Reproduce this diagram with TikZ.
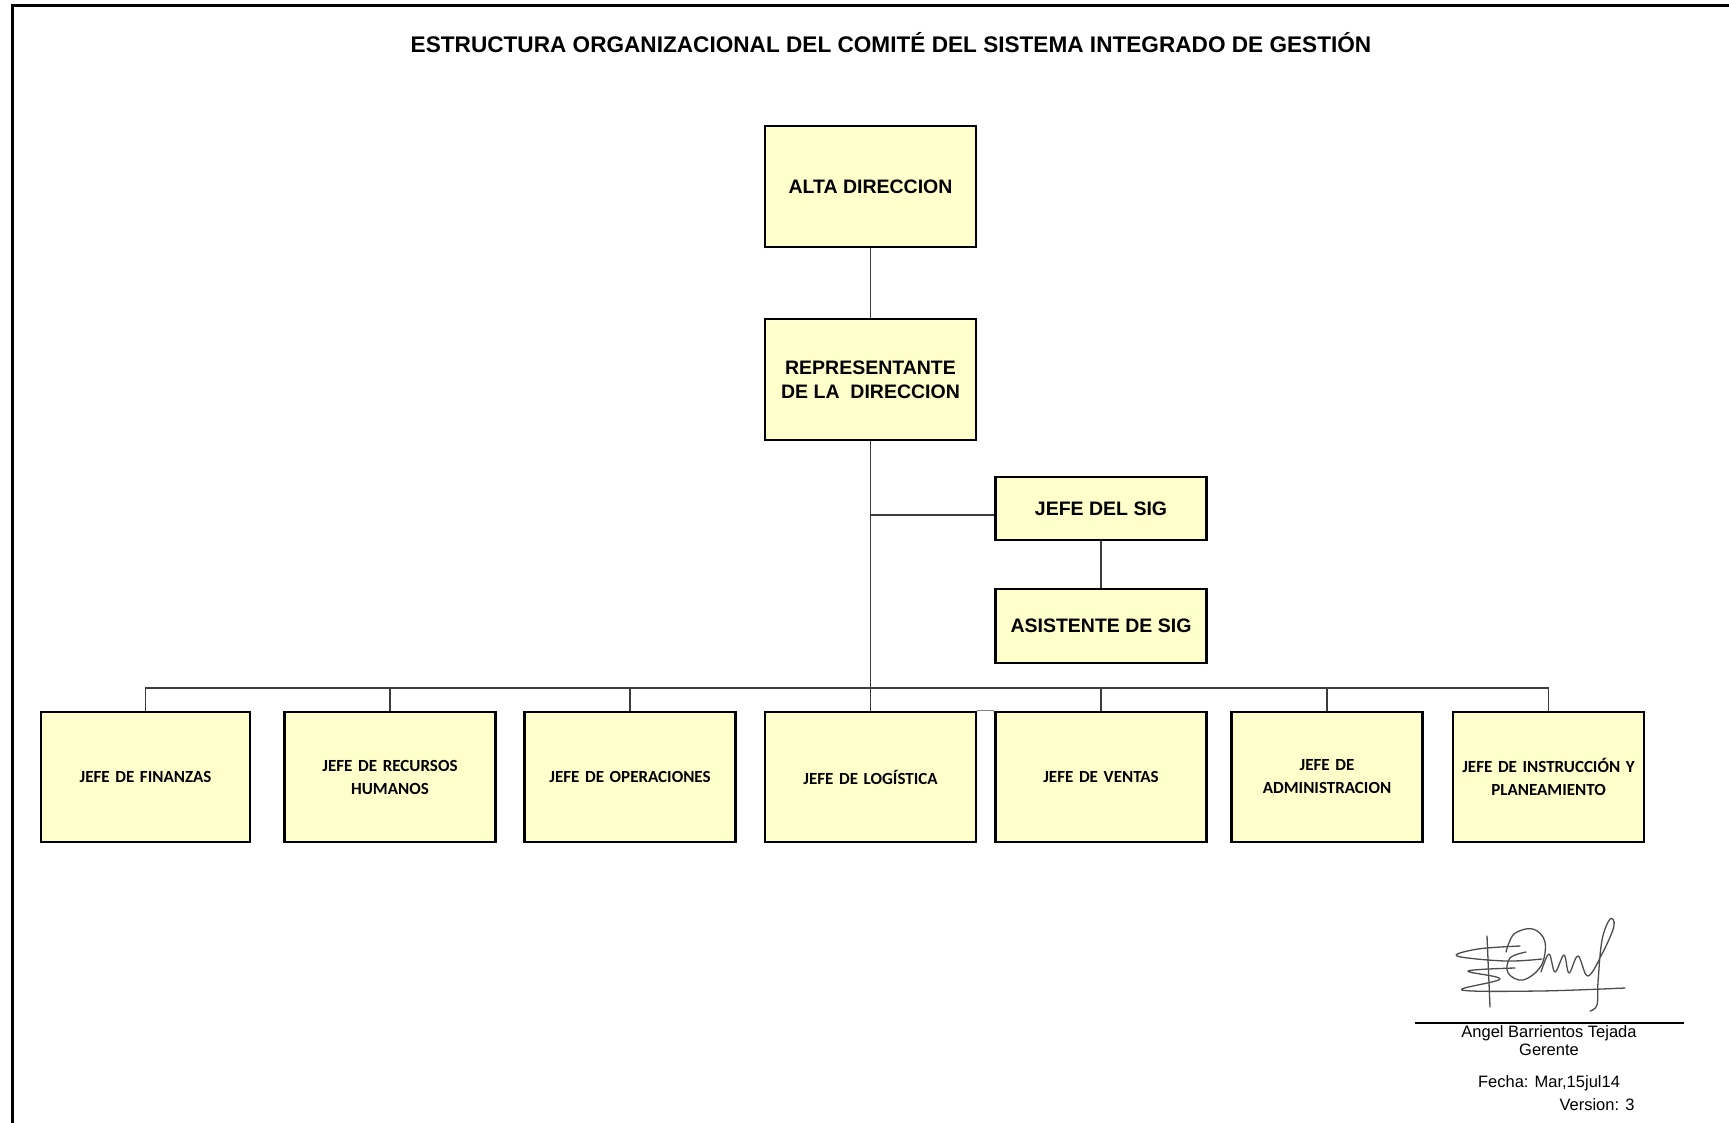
\documentclass[tikz,border=0pt]{standalone}
\usepackage{fontspec}
\setmainfont{Liberation Sans}
\newfontfamily\calibri{Carlito}
\definecolor{amarillo}{HTML}{FFFFCC}
\definecolor{linea}{HTML}{3C3C3C}

\tikzset{caja/.style={draw, line width=2.6pt, fill=amarillo, minimum width=211pt, inner sep=0pt, align=center},
    topbox/.style={caja, minimum height=121pt, font=\fontsize{19.5}{24}\selectfont\bfseries},
    lowbox/.style={caja, minimum height=130pt, text width=190pt, font=\calibri\fontsize{17}{23}\selectfont\bfseries},
    conn/.style={draw=linea, line width=1.4pt},
    firma/.style={draw=gray!60!black, line width=1.3pt, line cap=round, line join=round},
    pie/.style={inner sep=0pt, align=center, font=\fontsize{16.5}{18}\selectfont}}

\begin{document}
\begin{tikzpicture}[x=1pt, y=-1pt]
    \useasboundingbox (0,0) rectangle (1729,1123);
    \draw[line width=3pt] (12,1130) -- (12,6) -- (1735,6);
    
    \node[inner sep=0pt, font=\fontsize{22.6}{24}\selectfont\bfseries] (titulo) at (891,43) {ESTRUCTURA ORGANIZACIONAL DEL COMIT\'E DEL SISTEMA INTEGRADO DE GESTI\'ON};
    
    \node[topbox] (alta) at (870.5,186.5) {ALTA DIRECCION};
    \node[topbox] (repr) at ([yshift=-193pt] alta) {REPRESENTANTE\\DE LA\ \ DIRECCION};
    
    \node[topbox, minimum height=63pt] (jefe_sig) at (1101,508.5) {JEFE DEL SIG};
    \node[topbox, minimum height=74pt] (asist_sig) at ([yshift=-117.5pt] jefe_sig) {ASISTENTE DE SIG};
    
    \node[lowbox, minimum width=209pt] (finanzas) at (145.5,777) {JEFE DE FINANZAS};
    \node[lowbox] (rrhh) at (390,777) {JEFE DE RECURSOS\\HUMANOS};
    \node[lowbox] (operaciones) at (630,777) {JEFE DE OPERACIONES};
    \node[lowbox] (logistica) at (870.5,777) {JEFE DE LOG\'ISTICA};
    \node[lowbox] (ventas) at (1101,777) {JEFE DE VENTAS};
    \node[lowbox, minimum width=191pt, text width=180pt] (admin) at (1327,777) {JEFE DE\\ADMINISTRACION};
    \node[lowbox, minimum width=191pt, text width=188pt] (instruccion) at (1548.5,777) {JEFE DE INSTRUCCI\'ON Y\\PLANEAMIENTO};
    
    \coordinate (bus) at (0,688);
    
    \draw[conn] (alta) -- (repr);
    \draw[conn] (repr.south) -- (logistica.north);
    \draw[conn] ([yshift=-6.5pt]jefe_sig.west) -- ([yshift=-6.5pt]jefe_sig.west -| repr.south);
    \draw[conn] (jefe_sig) -- (asist_sig);
    \draw[conn] (finanzas.north) |- (instruccion.north |- bus) -- (instruccion.north);
    \foreach \n in {rrhh, operaciones, ventas, admin}
        \draw[conn] (\n.north) -- (\n.north |- bus);
    \draw[conn, line width=1pt, draw=gray] (logistica.north east) -- (ventas.north west);
    
    % firma
    \draw[firma] plot[smooth, tension=0.6] coordinates {(1520,946) (1478,949) (1457,956) (1505,961) (1542,959)};
    \draw[firma] plot[smooth, tension=0.6] coordinates {(1515,968) (1468,971) (1500,979) (1462,990) (1540,991) (1625,988)};
    \draw[firma] (1487,936) -- (1490,1007);
    \draw[firma] plot[smooth, tension=0.6] coordinates {(1506,952) (1514,934) (1533,929) (1545,942) (1541,966) (1523,980) (1508,973) (1510,958) (1526,952)};
    \draw[firma] plot[smooth, tension=0.6] coordinates {(1541,972) (1549,954) (1555,972) (1564,955) (1569,973) (1578,956) (1588,976) (1603,952) (1614,926) (1610,919) (1602,940) (1598,982) (1597,1005) (1590,1011)};
    
    \draw[line width=1.2pt] (1415,1023) -- (1684,1023);
    \node[pie] (nombre) at (1549,1041) {Angel Barrientos Tejada\\Gerente};
    \node[pie] (fecha) at (1549,1083) {Fecha: Mar,15jul14};
    \node[pie] (version) at (1597,1105) {Version: 3};
\end{tikzpicture}
\end{document}
